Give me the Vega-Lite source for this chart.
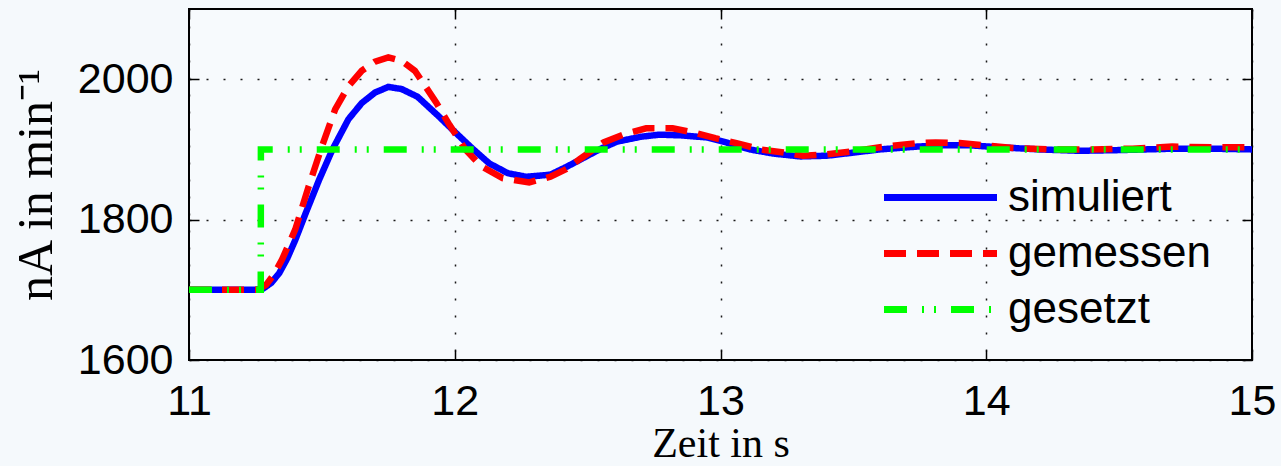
{
  "$schema": "https://vega.github.io/schema/vega-lite/v6.json",
  "width": 1063,
  "height": 351,
  "autosize": {"type": "none"},
  "padding": {"left": 189, "top": 9, "right": 29, "bottom": 106},
  "background": "#f5f9fc",
  "config": {
    "view": {"stroke": "black", "strokeWidth": 2, "fill": "#f7fafd"},
    "axis": {
      "labelFont": "Liberation Sans", "labelFontSize": 43, "labelColor": "black",
      "titleFont": "Liberation Serif", "titleFontSize": 42, "titleFontWeight": "normal", "titleColor": "black",
      "tickColor": "black", "tickWidth": 1.5, "tickSize": -10,
      "domain": false, "labelFlush": false, "format": "d",
      "gridColor": "black", "gridWidth": 1.5, "gridDash": [2, 15], "gridOpacity": 0.9
    },
    "legend": {
      "orient": "none", "legendX": 725, "legendY": 162, "padding": 0,
      "symbolType": "M-2.5,0H2.5", "symbolSize": 2043, "symbolStrokeWidth": 7,
      "labelFont": "Liberation Sans", "labelFontSize": 44, "labelColor": "black", "labelOffset": 41,
      "labelLimit": 400, "title": null, "rowPadding": 7
    }
  },
  "data": {
    "values": [
      {"s": "simuliert", "t": 11.0, "v": 1700},
      {"s": "simuliert", "t": 11.25, "v": 1700},
      {"s": "simuliert", "t": 11.28, "v": 1702},
      {"s": "simuliert", "t": 11.31, "v": 1710},
      {"s": "simuliert", "t": 11.34, "v": 1724},
      {"s": "simuliert", "t": 11.37, "v": 1745},
      {"s": "simuliert", "t": 11.4, "v": 1771},
      {"s": "simuliert", "t": 11.44, "v": 1810},
      {"s": "simuliert", "t": 11.49, "v": 1857},
      {"s": "simuliert", "t": 11.54, "v": 1900},
      {"s": "simuliert", "t": 11.6, "v": 1943},
      {"s": "simuliert", "t": 11.65, "v": 1966},
      {"s": "simuliert", "t": 11.7, "v": 1981},
      {"s": "simuliert", "t": 11.75, "v": 1989},
      {"s": "simuliert", "t": 11.8, "v": 1986},
      {"s": "simuliert", "t": 11.86, "v": 1975},
      {"s": "simuliert", "t": 11.94, "v": 1947},
      {"s": "simuliert", "t": 12.0, "v": 1925},
      {"s": "simuliert", "t": 12.07, "v": 1900},
      {"s": "simuliert", "t": 12.13, "v": 1880},
      {"s": "simuliert", "t": 12.2, "v": 1866},
      {"s": "simuliert", "t": 12.27, "v": 1861},
      {"s": "simuliert", "t": 12.36, "v": 1864},
      {"s": "simuliert", "t": 12.42, "v": 1875},
      {"s": "simuliert", "t": 12.48, "v": 1887},
      {"s": "simuliert", "t": 12.55, "v": 1901},
      {"s": "simuliert", "t": 12.61, "v": 1911},
      {"s": "simuliert", "t": 12.7, "v": 1918},
      {"s": "simuliert", "t": 12.77, "v": 1921},
      {"s": "simuliert", "t": 12.85, "v": 1920},
      {"s": "simuliert", "t": 12.95, "v": 1917},
      {"s": "simuliert", "t": 13.03, "v": 1909},
      {"s": "simuliert", "t": 13.11, "v": 1900},
      {"s": "simuliert", "t": 13.2, "v": 1894},
      {"s": "simuliert", "t": 13.3, "v": 1890},
      {"s": "simuliert", "t": 13.4, "v": 1891},
      {"s": "simuliert", "t": 13.49, "v": 1895},
      {"s": "simuliert", "t": 13.6, "v": 1900},
      {"s": "simuliert", "t": 13.74, "v": 1904},
      {"s": "simuliert", "t": 13.85, "v": 1906},
      {"s": "simuliert", "t": 13.93, "v": 1906},
      {"s": "simuliert", "t": 14.05, "v": 1903},
      {"s": "simuliert", "t": 14.2, "v": 1900},
      {"s": "simuliert", "t": 14.35, "v": 1898},
      {"s": "simuliert", "t": 14.5, "v": 1899},
      {"s": "simuliert", "t": 14.7, "v": 1901},
      {"s": "simuliert", "t": 14.85, "v": 1901},
      {"s": "simuliert", "t": 15.0, "v": 1900},
      {"s": "gemessen", "t": 11.0, "v": 1700},
      {"s": "gemessen", "t": 11.26, "v": 1700},
      {"s": "gemessen", "t": 11.29, "v": 1707},
      {"s": "gemessen", "t": 11.32, "v": 1722},
      {"s": "gemessen", "t": 11.35, "v": 1743},
      {"s": "gemessen", "t": 11.4, "v": 1786},
      {"s": "gemessen", "t": 11.45, "v": 1847},
      {"s": "gemessen", "t": 11.5, "v": 1904},
      {"s": "gemessen", "t": 11.55, "v": 1957},
      {"s": "gemessen", "t": 11.6, "v": 1990},
      {"s": "gemessen", "t": 11.65, "v": 2012},
      {"s": "gemessen", "t": 11.7, "v": 2025},
      {"s": "gemessen", "t": 11.75, "v": 2031},
      {"s": "gemessen", "t": 11.8, "v": 2026},
      {"s": "gemessen", "t": 11.85, "v": 2012},
      {"s": "gemessen", "t": 11.93, "v": 1967},
      {"s": "gemessen", "t": 11.98, "v": 1935},
      {"s": "gemessen", "t": 12.04, "v": 1900},
      {"s": "gemessen", "t": 12.1, "v": 1876},
      {"s": "gemessen", "t": 12.18, "v": 1859},
      {"s": "gemessen", "t": 12.28, "v": 1853},
      {"s": "gemessen", "t": 12.36, "v": 1861},
      {"s": "gemessen", "t": 12.42, "v": 1872},
      {"s": "gemessen", "t": 12.47, "v": 1886},
      {"s": "gemessen", "t": 12.56, "v": 1910},
      {"s": "gemessen", "t": 12.64, "v": 1922},
      {"s": "gemessen", "t": 12.72, "v": 1930},
      {"s": "gemessen", "t": 12.82, "v": 1930},
      {"s": "gemessen", "t": 12.9, "v": 1924},
      {"s": "gemessen", "t": 12.98, "v": 1916},
      {"s": "gemessen", "t": 13.06, "v": 1909},
      {"s": "gemessen", "t": 13.15, "v": 1900},
      {"s": "gemessen", "t": 13.23, "v": 1896},
      {"s": "gemessen", "t": 13.31, "v": 1891},
      {"s": "gemessen", "t": 13.4, "v": 1893},
      {"s": "gemessen", "t": 13.49, "v": 1897},
      {"s": "gemessen", "t": 13.6, "v": 1903},
      {"s": "gemessen", "t": 13.74, "v": 1909},
      {"s": "gemessen", "t": 13.81, "v": 1910},
      {"s": "gemessen", "t": 13.9, "v": 1909},
      {"s": "gemessen", "t": 13.99, "v": 1906},
      {"s": "gemessen", "t": 14.1, "v": 1902},
      {"s": "gemessen", "t": 14.25, "v": 1900},
      {"s": "gemessen", "t": 14.4, "v": 1900},
      {"s": "gemessen", "t": 14.55, "v": 1901},
      {"s": "gemessen", "t": 14.7, "v": 1904},
      {"s": "gemessen", "t": 14.85, "v": 1903},
      {"s": "gemessen", "t": 15.0, "v": 1903},
      {"s": "gesetzt", "t": 11.0, "v": 1700},
      {"s": "gesetzt", "t": 11.27, "v": 1700},
      {"s": "gesetzt", "t": 11.2705, "v": 1900},
      {"s": "gesetzt", "t": 15.0, "v": 1900}
    ]
  },
  "encoding": {
    "x": {"field": "t", "type": "quantitative", "scale": {"domain": [11, 15], "nice": false, "zero": false}},
    "y": {"field": "v", "type": "quantitative", "scale": {"domain": [1600, 2100], "nice": false, "zero": false}},
    "color": {"field": "s", "type": "nominal", "scale": {"domain": ["simuliert", "gemessen", "gesetzt"], "range": ["#0000ff", "#ff0000", "#00ff00"]}},
    "strokeDash": {"field": "s", "type": "nominal", "scale": {"domain": ["simuliert", "gemessen", "gesetzt"], "range": [[1, 0], [22, 11], [23, 15, 2, 10, 2, 15]]}}
  },
  "layer": [
    {
      "transform": [{"filter": "datum.s === 'simuliert'"}],
      "mark": {"type": "line", "strokeWidth": 6.5},
      "encoding": {
        "x": {"field": "t", "type": "quantitative", "axis": {"orient": "bottom", "values": [11, 12, 13, 14, 15], "grid": true, "title": "Zeit in s", "labelPadding": 30, "titlePadding": 0}},
        "y": {"field": "v", "type": "quantitative", "axis": {"orient": "left", "values": [1600, 1800, 2000], "grid": true, "title": "nA in min⁻¹", "titleFontSize": 50, "labelPadding": 26, "titlePadding": 16}}
      }
    },
    {
      "transform": [{"filter": "datum.s === 'gemessen'"}],
      "mark": {"type": "line", "strokeWidth": 6.5},
      "encoding": {
        "x": {"field": "t", "type": "quantitative", "axis": null},
        "y": {"field": "v", "type": "quantitative", "axis": null}
      }
    },
    {
      "transform": [{"filter": "datum.s === 'gesetzt'"}],
      "mark": {"type": "line", "strokeWidth": 6.5},
      "encoding": {
        "x": {"field": "t", "type": "quantitative", "axis": {"orient": "top", "values": [11, 12, 13, 14, 15], "grid": false, "labels": false, "title": null}},
        "y": {"field": "v", "type": "quantitative", "axis": {"orient": "right", "values": [1600, 1800, 2000], "grid": false, "labels": false, "title": null}}
      }
    }
  ],
  "resolve": {"axis": {"x": "independent", "y": "independent"}}
}
